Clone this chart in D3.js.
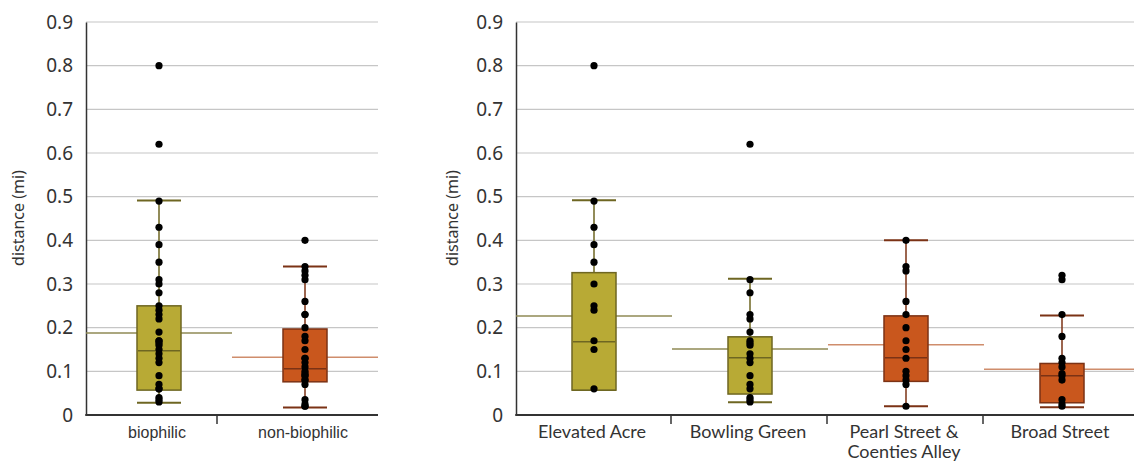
<!DOCTYPE html>
<html>
<head>
<meta charset="utf-8">
<script src="https://cdn.jsdelivr.net/npm/d3@7"></script>
<style>
  body { margin: 0; background: #fff; }
  svg { display: block; }
</style>
</head>
<body>
<div id="chart"></div>
<script>
// categories
var leftCats = ['biophilic', 'non-biophilic'];
var rightCats = ['Elevated Acre', 'Bowling Green', 'Pearl Street & Coenties Alley', 'Broad Street'];
var rightLabels = [['Elevated Acre'], ['Bowling Green'], ['Pearl Street &', 'Coenties Alley'], ['Broad Street']];
var yTicks = [0, 0.1, 0.2, 0.3, 0.4, 0.5, 0.6, 0.7, 0.8, 0.9];

// individual distances (mi)
var elevatedAcre = [0.80, 0.49, 0.43, 0.39, 0.35, 0.30, 0.25, 0.24, 0.17, 0.15, 0.06];
var bowlingGreen = [0.62, 0.31, 0.28, 0.23, 0.22, 0.19, 0.17, 0.165, 0.16, 0.14, 0.13, 0.12, 0.09, 0.07, 0.06, 0.04, 0.035, 0.03];
var pearlStreet = [0.40, 0.34, 0.33, 0.26, 0.23, 0.20, 0.17, 0.15, 0.13, 0.10, 0.09, 0.08, 0.07, 0.02];
var broadStreet = [0.32, 0.31, 0.23, 0.18, 0.13, 0.12, 0.11, 0.095, 0.09, 0.08, 0.035, 0.025, 0.02];
var biophilic = elevatedAcre.concat(bowlingGreen);
var nonBiophilic = pearlStreet.concat(broadStreet);

// box stats: [whisker low, q1, median, q3, whisker high]
var leftBoxes = [
  [0.028, 0.057, 0.147, 0.250, 0.491],
  [0.017, 0.076, 0.106, 0.197, 0.340]
];
var leftMeans = [0.188, 0.132];
var rightBoxes = [
  [0.057, 0.057, 0.168, 0.326, 0.492],
  [0.029, 0.048, 0.131, 0.179, 0.312],
  [0.020, 0.077, 0.131, 0.227, 0.400],
  [0.018, 0.028, 0.090, 0.118, 0.228]
];
var rightMeans = [0.227, 0.151, 0.161, 0.105];

var olive = { fill: '#b8aa35', edge: '#6e6622', mean: '#8f8a55' },
    rust = { fill: '#c9571d', edge: '#7b3215', mean: '#cf8d6c' };

var width = 1134, height = 462,
    plotTop = 22, plotBottom = 415,
    boxW = 44;

var svg = d3.select('#chart').append('svg')
  .attr('width', width)
  .attr('height', height);

var yScale = d3.scaleLinear()
  .domain([0, 0.9])
  .range([plotBottom, plotTop]);

function panel(x0, x1, cats, labels, points, boxes, means, colors, labelFont, labelSize, titleX, sepShift) {
  var xScale = d3.scaleBand()
    .domain(cats)
    .range([x0, x1]);
  var bw = xScale.bandwidth();
  var g = svg.append('g');

  // grid
  g.selectAll('line.grid').data(yTicks.slice(1))
    .enter().append('line')
      .attr('x1', x0).attr('x2', x1)
      .attr('y1', function(d) { return yScale(d); })
      .attr('y2', function(d) { return yScale(d); })
      .attr('stroke', '#c6c6c6')
      .attr('stroke-width', 1.2);

  // y axis
  var yAxis = d3.axisLeft(yScale)
    .tickValues(yTicks)
    .tickSize(0)
    .tickPadding(13)
    .tickFormat(function(d) { return d === 0 ? '0' : d3.format('.1f')(d); });
  var yg = g.append('g')
    .attr('transform', 'translate(' + x0 + ',0)')
    .call(yAxis);
  yg.select('.domain').attr('stroke', '#333').attr('stroke-width', 1.5);
  yg.selectAll('text')
    .attr('font-family', 'Noto Sans')
    .attr('font-size', 19)
    .attr('fill', '#333');

  g.append('text')
    .attr('transform', 'translate(' + titleX + ',' + 218 + ') rotate(-90)')
    .attr('text-anchor', 'middle')
    .attr('dy', '0.35em')
    .attr('font-family', 'Noto Sans')
    .attr('font-size', 16)
    .attr('fill', '#333')
    .text('distance (mi)');

  // mean lines behind boxes
  g.selectAll('line.mean').data(means)
    .enter().append('line')
      .attr('x1', function(d, i) { return xScale(cats[i]); })
      .attr('x2', function(d, i) { return xScale(cats[i]) + bw; })
      .attr('y1', function(d) { return yScale(d); })
      .attr('y2', function(d) { return yScale(d); })
      .attr('stroke', function(d, i) { return colors[i].mean; })
      .attr('stroke-width', 1.5);

  var box = g.selectAll('g.box').data(boxes)
    .enter().append('g')
      .attr('transform', function(d, i) {
        return 'translate(' + (xScale(cats[i]) + bw / 2) + ',0)';
      });

  box.append('line')
    .attr('x1', 0).attr('x2', 0)
    .attr('y1', function(d) { return yScale(d[0]); })
    .attr('y2', function(d) { return yScale(d[4]); })
    .attr('stroke', function(d, i) { return colors[i].edge; })
    .attr('stroke-width', 1.5);

  box.selectAll('line.cap').data(function(d, i) {
      return [{ v: d[0], c: colors[i] }, { v: d[4], c: colors[i] }];
    })
    .enter().append('line')
      .attr('x1', -boxW / 2).attr('x2', boxW / 2)
      .attr('y1', function(d) { return yScale(d.v); })
      .attr('y2', function(d) { return yScale(d.v); })
      .attr('stroke', function(d) { return d.c.edge; })
      .attr('stroke-width', 2);

  box.append('rect')
    .attr('x', -boxW / 2)
    .attr('width', boxW)
    .attr('y', function(d) { return yScale(d[3]); })
    .attr('height', function(d) { return yScale(d[1]) - yScale(d[3]); })
    .attr('fill', function(d, i) { return colors[i].fill; })
    .attr('stroke', function(d, i) { return colors[i].edge; })
    .attr('stroke-width', 1.5);

  box.append('line')
    .attr('x1', -boxW / 2 + 1).attr('x2', boxW / 2 - 1)
    .attr('y1', function(d) { return yScale(d[2]); })
    .attr('y2', function(d) { return yScale(d[2]); })
    .attr('stroke', function(d, i) { return colors[i].edge; })
    .attr('stroke-width', 1.5);

  // dots
  points.forEach(function(arr, i) {
    g.selectAll(null).data(arr)
      .enter().append('circle')
        .attr('cx', xScale(cats[i]) + bw / 2)
        .attr('cy', function(d) { return yScale(d); })
        .attr('r', 3.6)
        .attr('fill', '#000');
  });

  // x axis
  g.append('line')
    .attr('x1', x0 - 0.75).attr('x2', x1)
    .attr('y1', plotBottom).attr('y2', plotBottom)
    .attr('stroke', '#333')
    .attr('stroke-width', 1.8);

  g.selectAll('line.sep').data(cats.slice(1))
    .enter().append('line')
      .attr('x1', function(d) { return xScale(d) + sepShift; })
      .attr('x2', function(d) { return xScale(d) + sepShift; })
      .attr('y1', plotBottom).attr('y2', plotBottom + 9)
      .attr('stroke', '#333')
      .attr('stroke-width', 1.5);

  var lab = g.selectAll('text.cat').data(labels)
    .enter().append('text')
      .attr('x', function(d, i) { return xScale(cats[i]) + bw / 2 - 2; })
      .attr('y', 438)
      .attr('text-anchor', 'middle')
      .attr('font-family', labelFont)
      .attr('font-size', labelSize)
      .attr('fill', '#333');
  lab.selectAll('tspan').data(function(d) { return d; })
    .enter().append('tspan')
      .attr('x', function() { return d3.select(this.parentNode).attr('x'); })
      .attr('dy', function(d, j) { return j === 0 ? 0 : 20; })
      .text(function(d) { return d; });
}

panel(86, 378, leftCats, leftCats.map(function(d) { return [d]; }),
  [biophilic, nonBiophilic], leftBoxes, leftMeans, [olive, rust],
  'Liberation Sans', 16, 18, -15);

panel(516, 1140, rightCats, rightLabels,
  [elevatedAcre, bowlingGreen, pearlStreet, broadStreet], rightBoxes, rightMeans,
  [olive, olive, rust, rust], 'Lato', 18, 452, -1);
</script>
</body>
</html>
